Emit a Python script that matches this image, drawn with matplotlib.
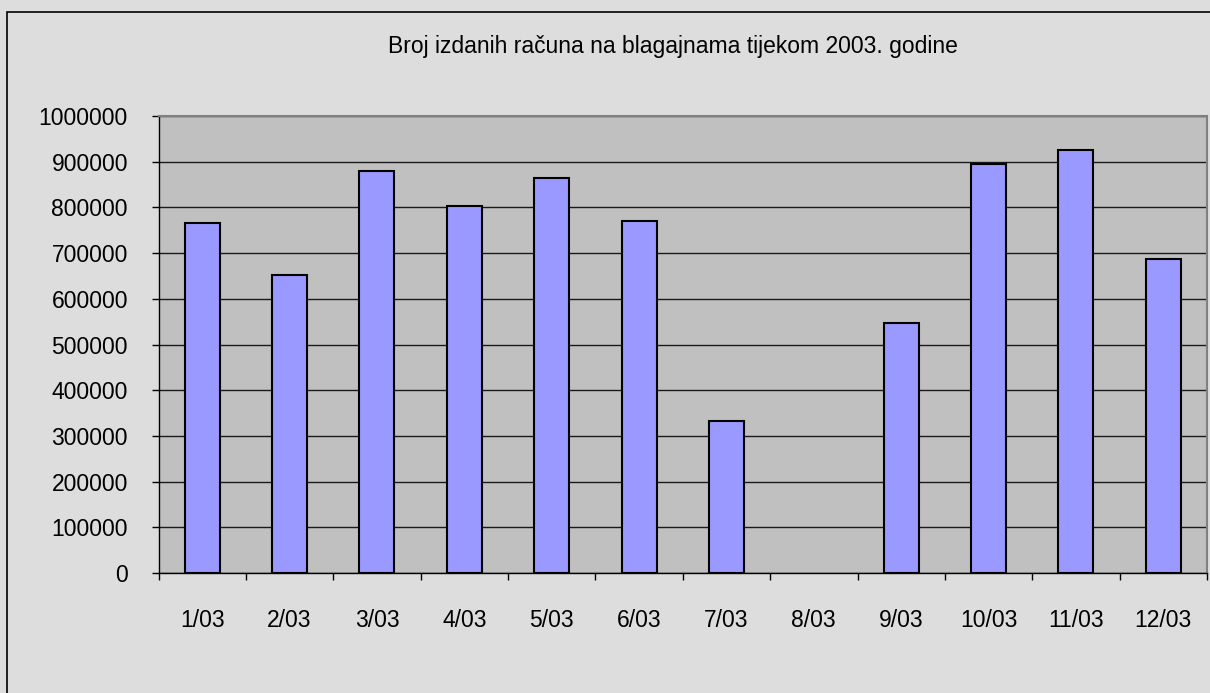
import numpy as np
import matplotlib
matplotlib.use('agg')
import matplotlib.pyplot as plt
from matplotlib.patches import Rectangle
from matplotlib.ticker import FixedLocator

months = ["1/03", "2/03", "3/03", "4/03", "5/03", "6/03",
          "7/03", "8/03", "9/03", "10/03", "11/03", "12/03"]
racuni = [766000, 652000, 880000, 803000, 865000, 771000,
          333000, 0, 546000, 894000, 926000, 688000]
yticks = list(range(0, 1000001, 100000))

plt.rcParams['font.family'] = ['Liberation Sans', 'DejaVu Sans']

fig = plt.figure(figsize=(12.1, 6.93), dpi=100)
fig.patch.set_facecolor('#dddddd')

# outer chart frame (cut off on right and bottom like the reference)
fig.patches.append(Rectangle((7 / 1210, -0.1), 1.2, 1 - 12 / 693 + 0.1,
                             transform=fig.transFigure, fill=False,
                             edgecolor='black', linewidth=1.2))

ax = fig.add_axes([158.5 / 1210, 1 - 573 / 693, (1207 - 158.5) / 1210, (573 - 116) / 693])
ax.set_facecolor('#c0c0c0')

x = np.arange(len(months))
# empty months get no outline (Excel draws nothing there)
lw = [1.5 if v > 0 else 0 for v in racuni]
ax.bar(x, racuni, width=0.4, color='#9999ff', edgecolor='black', linewidth=lw, zorder=3)

ax.set_xlim(-0.5, len(months) - 0.5)
ax.set_ylim(0, 1000000)
ax.set_yticks(yticks)
ax.set_yticklabels([str(v) for v in yticks])
ax.yaxis.grid(True, color='#1a1a1a', linewidth=1.0, zorder=1)
ax.set_axisbelow(True)

ax.set_xticks(x)
ax.set_xticklabels(months)
ax.xaxis.set_minor_locator(FixedLocator(np.arange(-0.5, len(months), 1)))
ax.tick_params(axis='x', which='major', length=0, pad=26, labelsize=16.5)
ax.tick_params(axis='x', which='minor', length=5, width=1, direction='out')
ax.tick_params(axis='y', length=5, width=1, pad=17, labelsize=16.5)

for s in ['left', 'bottom']:
    ax.spines[s].set_color('black')
    ax.spines[s].set_linewidth(1.0)
for s in ['top', 'right']:
    ax.spines[s].set_color('#808080')
    ax.spines[s].set_linewidth(1.5)

fig.text(673 / 1210, 1 - 47 / 693, "Broj izdanih računa na blagajnama tijekom 2003. godine",
         ha='center', va='center', fontsize=16.5)

fig.savefig('out.png', dpi=100, facecolor=fig.get_facecolor())
